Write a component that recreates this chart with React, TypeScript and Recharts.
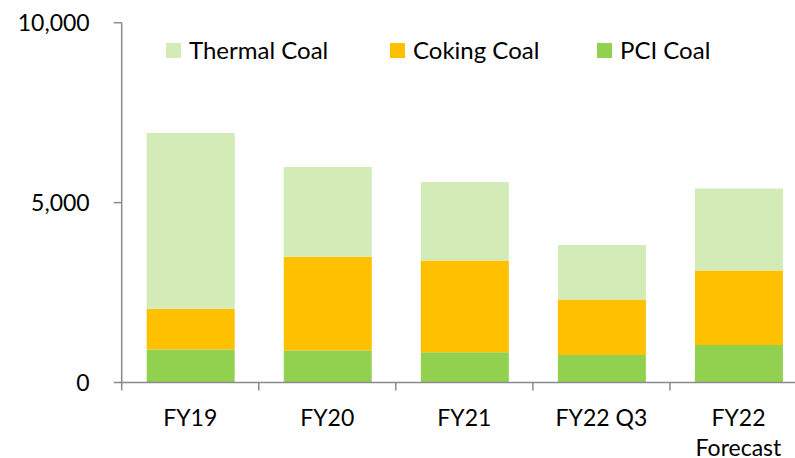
import { BarChart, Bar, XAxis, YAxis, Legend } from 'recharts';

const categories = ['FY19', 'FY20', 'FY21', 'FY22 Q3', 'FY22 Forecast'];
const pciCoal = [917, 889, 844, 761, 1039];
const cokingCoal = [1130, 2603, 2545, 1545, 2072];
const thermalCoal = [4889, 2500, 2186, 1519, 2278];
const yTicks = [0, 5000, 10000];

const data = categories.map((name, i) => ({
  name,
  pci: pciCoal[i],
  coking: cokingCoal[i],
  thermal: thermalCoal[i],
}));

const FONT = 'Lato, "Open Sans", sans-serif';
const AXIS_GREY = '#8a8a8a';

const legendItems = [
  { key: 'thermal', label: 'Thermal Coal', color: '#D2EBB7', width: 224 },
  { key: 'coking', label: 'Coking Coal', color: '#FFC000', width: 207 },
  { key: 'pci', label: 'PCI Coal', color: '#92D050', width: 140 },
];

// long labels go one word per line, like the Excel axis did
function splitLabel(label: string) {
  return label.length > 10 ? label.split(' ') : [label];
}

function CategoryTick(props: any) {
  const { x, y, payload } = props;
  const half = payload?.offset ?? 0;
  const lines = splitLabel(String(payload.value));
  return (
    <g>
      <line x1={x - half} x2={x - half} y1={y} y2={y + 8} stroke={AXIS_GREY} strokeWidth={1.5} />
      <text x={x} y={y + 43} textAnchor="middle" fill="#000" fontSize={23} fontFamily={FONT}>
        {lines.map((line, i) => (
          <tspan key={i} x={x} dy={i === 0 ? 0 : 30}>
            {line}
          </tspan>
        ))}
      </text>
    </g>
  );
}

function LegendContent() {
  return (
    <div style={{ display: 'flex', fontFamily: FONT, fontSize: 24, color: '#000', lineHeight: '28px' }}>
      {legendItems.map((item) => (
        <div key={item.key} style={{ display: 'flex', alignItems: 'center', width: item.width }}>
          <span style={{ width: 15, height: 15, background: item.color, marginRight: 8, display: 'inline-block' }} />
          <span>{item.label}</span>
        </div>
      ))}
    </div>
  );
}

export default function App() {
  return (
    <div style={{ position: 'absolute', left: 0, top: 0, width: 795, height: 458, overflow: 'hidden', background: '#fff' }}>
      <BarChart
        width={807}
        height={458}
        data={data}
        margin={{ top: 22.7, right: 0, bottom: 0, left: 0 }}
        barSize={88}
      >
        <XAxis
          dataKey="name"
          height={75.5}
          stroke={AXIS_GREY}
          strokeWidth={1.5}
          tickLine={false}
          tickSize={0}
          tickMargin={0}
          interval={0}
          tick={<CategoryTick />}
        />
        <YAxis
          width={121.7}
          domain={[0, 10000]}
          ticks={yTicks}
          stroke={AXIS_GREY}
          strokeWidth={1.5}
          tickSize={8}
          tickMargin={24}
          tick={{ fill: '#000', fontSize: 23, fontFamily: FONT }}
          tickFormatter={(v: number) => v.toLocaleString('en-US')}
        />
        <Legend
          layout="horizontal"
          verticalAlign="middle"
          align="center"
          wrapperStyle={{ position: 'absolute', top: 36, left: 166, width: 600 }}
          content={<LegendContent />}
        />
        <Bar dataKey="pci" name="PCI Coal" stackId="coal" fill="#92D050" isAnimationActive={false} />
        <Bar dataKey="coking" name="Coking Coal" stackId="coal" fill="#FFC000" isAnimationActive={false} />
        <Bar dataKey="thermal" name="Thermal Coal" stackId="coal" fill="#D2EBB7" isAnimationActive={false} />
      </BarChart>
    </div>
  );
}
